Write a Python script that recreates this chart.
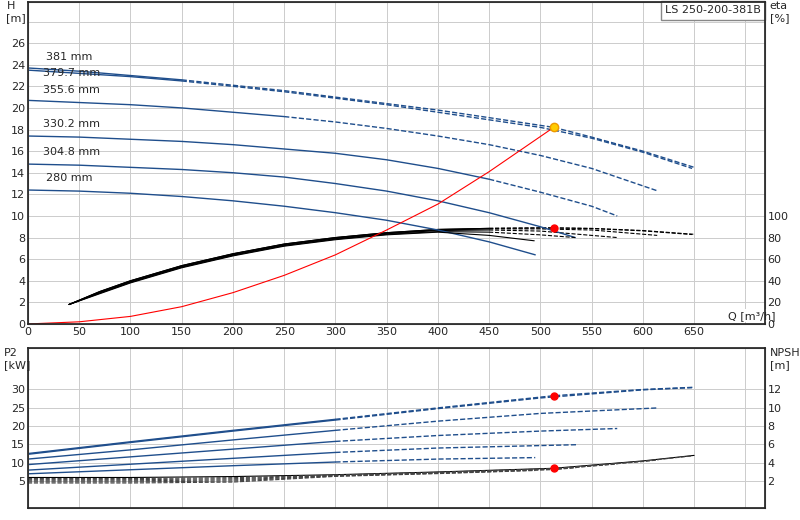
import numpy as np, pandas as pd, seaborn as sns, matplotlib
matplotlib.use("Agg")
import matplotlib.pyplot as plt

sns.set_theme(style="white")
plt.rcParams['font.family'] = ['DejaVu Sans']

diam_labels = ["381 mm", "379.7 mm", "355.6 mm", "330.2 mm", "304.8 mm", "280 mm"]
label_H = [24.4, 23.0, 21.4, 18.2, 15.6, 13.2]
q_H = [[0,50,100,150,200,250,300,350,400,450,513,550,600,650],
       [0,50,100,150,200,250,300,350,400,450,500,550,600,648],
       [0,50,100,150,200,250,300,350,400,450,500,550,615],
       [0,50,100,150,200,250,300,350,400,450,500,550,575],
       [0,50,100,150,200,250,300,350,400,450,500,534],
       [0,50,100,150,200,250,300,350,400,450,495]]
H_vals = [[23.7,23.4,23.0,22.6,22.1,21.6,21.0,20.4,19.8,19.1,18.2,17.3,16.0,14.5],
          [23.5,23.2,22.9,22.5,22.0,21.5,20.9,20.3,19.6,18.9,18.2,17.2,15.9,14.4],
          [20.7,20.5,20.3,20.0,19.6,19.2,18.7,18.1,17.4,16.6,15.6,14.4,12.3],
          [17.4,17.3,17.1,16.9,16.6,16.2,15.8,15.2,14.4,13.4,12.2,10.9,10.0],
          [14.8,14.7,14.5,14.3,14.0,13.6,13.0,12.3,11.4,10.3,9.0,8.0],
          [12.4,12.3,12.1,11.8,11.4,10.9,10.3,9.6,8.7,7.6,6.4]]
solid_until = [150, 150, 250, 450, 534, 495]
q_eta = [[40,70,100,150,200,250,300,350,400,450,513,550,600,650],
         [40,70,100,150,200,250,300,350,400,450,500,550,600,648],
         [40,70,100,150,200,250,300,350,400,450,500,550,614],
         [40,70,100,150,200,250,300,350,400,450,500,575],
         [40,70,100,150,200,250,300,350,400,450,500,534],
         [40,70,100,150,200,250,300,350,400,450,494]]
eta_vals = [[18,30,40,54,65,74,80,84.5,87.5,88.5,89,88.5,86.5,83],
            [18,30,40,54,65,74,80,84.5,87.5,88.5,89,88.3,86.2,82.8],
            [18,29.5,39.5,53.5,64.5,73.5,79.5,84,87,88,88,87,82],
            [18,29,39,53,64,73,79,83.5,86.5,87,86,80],
            [18,28.5,38.5,52.5,63.5,72.5,78.5,83,85.5,85,82.5,80],
            [18,28,38,52,63,72,78,82.5,85,82,77]]
q_sys = [0, 50, 100, 150, 200, 250, 300, 350, 400, 450, 513]
H_sys = [0, 0.2, 0.7, 1.6, 2.9, 4.5, 6.4, 8.7, 11.1, 14.1, 18.2]
q_P2 = [[0,100,200,300,400,513,600,650],[0,100,200,300,400,500,600,648],
        [0,100,200,300,400,500,615],[0,100,200,300,400,500,575],
        [0,100,200,300,400,535],[0,100,200,300,400,495]]
P2_vals = [[12.5,15.7,18.8,21.8,24.9,28.2,29.9,30.5],[12.3,15.5,18.6,21.6,24.7,27.6,29.8,30.4],
           [11.0,13.5,16.2,18.8,21.3,23.4,24.9],[9.5,11.6,13.7,15.8,17.4,18.6,19.3],
           [8.0,9.6,11.2,12.8,14.0,14.9],[7.0,8.1,9.2,10.2,11.0,11.4]]
q_npsh = [0, 100, 200, 300, 400, 513, 600, 650]
npsh_vals = [2.4, 2.4, 2.5, 2.7, 3.0, 3.4, 4.2, 4.8]
npsh_end = [650, 648, 615, 575, 535, 495]

blue = "#1f4e8c"
fig = plt.figure(figsize=(8, 5.2), dpi=100)
ax = fig.add_axes([0.035, 0.377, 0.921, 0.619])
axb = fig.add_axes([0.035, 0.023, 0.921, 0.308])
for a in (ax, axb):
    a.set_xlim(0, 719)
    a.set_xticks(np.arange(0, 719, 50))
    a.grid(True, color="#cccccc", lw=0.7)
    for s in a.spines.values():
        s.set_color("#888888"); s.set_linewidth(0.8)
    a.tick_params(labelsize=8, length=0, pad=2)
ax.set_ylim(0, 29.8)
ax.set_yticks(np.arange(0, 29, 2))
ax.set_yticklabels([str(v) if v <= 26 else "" for v in range(0, 29, 2)])
ax.set_xticklabels([str(v) if v <= 650 else "" for v in range(0, 719, 50)])

for i in range(6):
    df = pd.DataFrame({"Q": q_H[i], "H": H_vals[i]})
    s = df[df.Q <= solid_until[i]]
    d = df[df.Q >= s.Q.max()]
    sns.lineplot(data=s, x="Q", y="H", ax=ax, color=blue, lw=1, sort=False)
    if len(d) > 1:
        sns.lineplot(data=d, x="Q", y="H", ax=ax, color=blue, lw=1, ls="--", sort=False)
    ax.text(18 if i in (0, 5) else 15, label_H[i], diam_labels[i], fontsize=8)
    e = pd.DataFrame({"Q": q_eta[i], "H": np.array(eta_vals[i]) / 10})
    sns.lineplot(data=e[e.Q <= 450], x="Q", y="H", ax=ax, color="black", lw=0.8, sort=False)
    sns.lineplot(data=e[e.Q >= 450], x="Q", y="H", ax=ax, color="black", lw=0.8,
                 ls="--" if i != 5 else "-", sort=False)
sns.lineplot(x=q_sys, y=H_sys, ax=ax, color="red", lw=0.8, sort=False)
ax.plot(513, 18.2, "o", color="#ffcc00", mec="#ee9900", ms=6)
ax.plot(513, 8.9, "o", color="red", ms=5)
ax.set_xlabel(""); ax.set_ylabel("")
ax.text(706, 0.3, "Q [m³/h]", fontsize=8, ha="center", va="bottom",
        bbox=dict(fc="white", ec="none", pad=1))
axr = ax.twinx()
axr.set_ylim(0, 298)
axr.set_yticks(np.arange(0, 101, 20))
axr.tick_params(labelsize=8, length=0, pad=2)
fig.text(0.008, 0.998, "H\n[m]", fontsize=8, va="top", zorder=10)
fig.text(0.962, 0.998, "eta\n[%]", fontsize=8, va="top")
ax.text(0.995, 0.99, "LS 250-200-381B", transform=ax.transAxes, ha="right", va="top",
        fontsize=8, bbox=dict(fc="white", ec="#888888", pad=3))

axb.set_ylim(-2.3, 41.2)
axb.set_yticks([5, 10, 15, 20, 25, 30])
axb.set_xticklabels([])
for i in range(6):
    df = pd.DataFrame({"Q": q_P2[i], "P": P2_vals[i]})
    sns.lineplot(data=df[df.Q <= 300], x="Q", y="P", ax=axb, color=blue, lw=1, sort=False)
    sns.lineplot(data=df[df.Q >= 300], x="Q", y="P", ax=axb, color=blue, lw=1, ls="--", sort=False)
axb.plot(513, 28.2, "o", color="red", ms=5)
axb.set_xlabel(""); axb.set_ylabel("")
axn = axb.twinx()
axn.set_ylim(-0.92, 16.48)
axn.set_yticks([2, 4, 6, 8, 10, 12])
axn.tick_params(labelsize=8, length=0, pad=2)
for i in range(6):
    qn = [q for q in q_npsh if q < npsh_end[i]] + [npsh_end[i]]
    nv = list(np.interp(qn, q_npsh, npsh_vals) - 0.12 * i * np.array([1 if q < 300 else 0.3 for q in qn]))
    sns.lineplot(x=qn, y=nv, ax=axn, color="black" if i == 0 else "#444444", lw=0.8,
                 ls="--" if i else "-", sort=False)
axn.plot(513, 3.4, "o", color="red", ms=5)
fig.text(0.005, 0.33, "P2\n[kW]", fontsize=8, va="top")
fig.text(0.962, 0.33, "NPSH\n[m]", fontsize=8, va="top")
fig.savefig("out.png", dpi=100)
